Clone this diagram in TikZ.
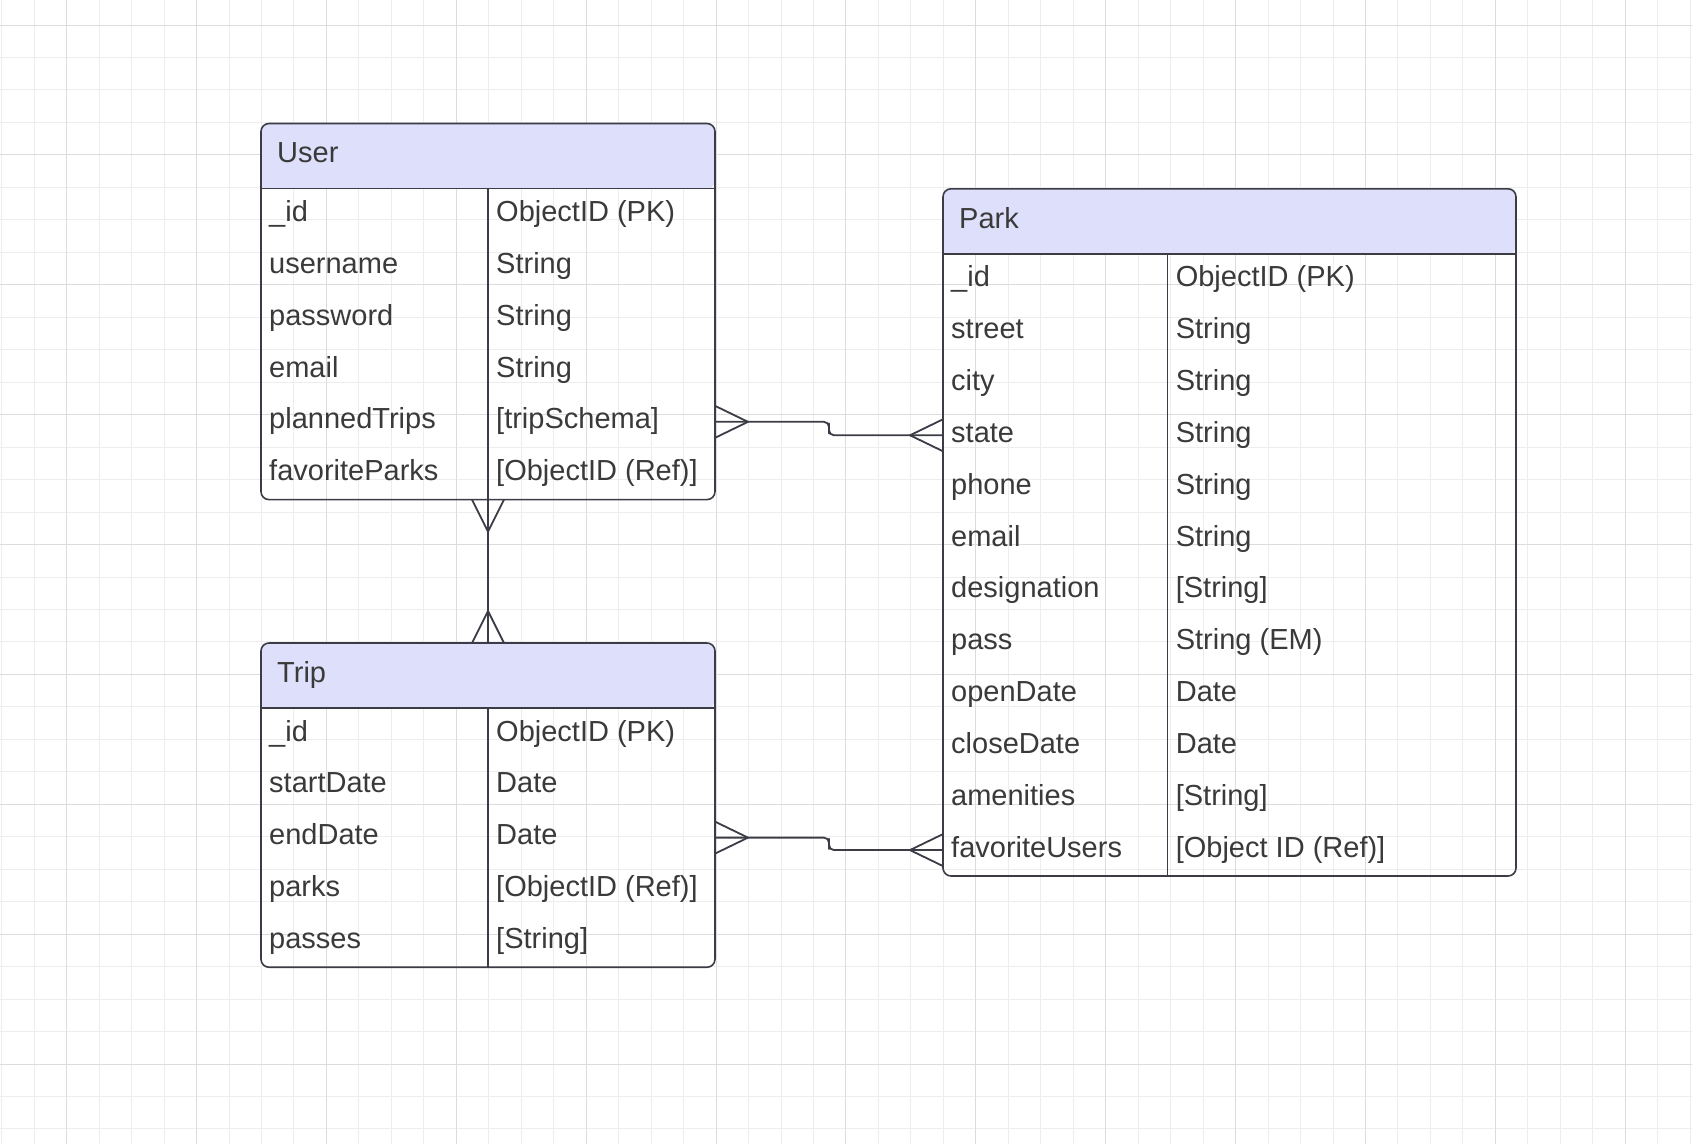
\documentclass[tikz,border=0pt]{standalone}
\usepackage{fontspec}
\setmainfont{Liberation Sans}
\usetikzlibrary{calc}

\definecolor{headfill}{HTML}{DEDFFA}
\definecolor{inkline}{HTML}{3B3C46}
\definecolor{inktext}{HTML}{3A3A3A}
\definecolor{gridminor}{HTML}{EDEDED}
\definecolor{gridmajor}{HTML}{DCDCDC}

\tikzset{
  tableline/.style={draw=inkline, line width=1.6pt},
  conn/.style={draw=inkline, line width=1.8pt, line join=round},
  celltext/.style={text=inktext, anchor=base west, inner sep=0pt,
    font=\fontsize{29}{34}\selectfont},
  tableframe/.style={draw=inkline, line width=1.6pt, rounded corners=8pt,
    inner sep=0pt, outer sep=0pt, anchor=north west},
}

% name, left, divider, right, top, rows, title, field/type list
\newcommand\ertable[8]{%
  \pgfmathsetmacro\hb{#5+65}%
  \pgfmathsetmacro\bt{#5+65+#6*51.85}%
  \fill[headfill, rounded corners=8pt] (#2,\hb) -- (#2,#5) -- (#4,#5) -- (#4,\hb) [sharp corners] -- cycle;
  \node[celltext] (#1-title) at (#2+16, #5+39.4) {#7};
  \draw[tableline] (#2,\hb) -- (#4,\hb);
  \draw[tableline] (#3,\hb) -- (#3,\bt);
  \foreach \f/\t [count=\k] in {#8} {
    \pgfmathsetmacro\yc{\hb+(\k-0.5)*51.85}
    \coordinate (#1-r\k-w) at (#2,\yc);
    \coordinate (#1-r\k-e) at (#4,\yc);
    \node[celltext] (#1-f\k) at (#2+8, \yc+7.1) {\f};
    \node[celltext] (#1-t\k) at (#3+8, \yc+7.1) {\t};
  }
  \node[tableframe, minimum width={(#4-#2)*1pt}, minimum height={(\bt-#5)*1pt}] (#1) at (#2,#5) {};
}

\begin{document}
\begin{tikzpicture}[x=1pt, y=-1pt]
  \useasboundingbox (0,0) rectangle (1692,1144);
  \fill[white] (0,0) rectangle (1692,1144);

  % background grid
  \foreach \i in {0,...,52}
    \draw[gridminor, line width=1pt] ({1.76+\i*32.47},0) -- ({1.76+\i*32.47},1144);
  \foreach \j in {0,...,36}
    \draw[gridminor, line width=1pt] (0,{-7.47+\j*32.47}) -- (1692,{-7.47+\j*32.47});
  \foreach \i in {0,...,12}
    \draw[gridmajor, line width=1pt] ({66.7+\i*129.88},0) -- ({66.7+\i*129.88},1144);
  \foreach \j in {0,...,8}
    \draw[gridmajor, line width=1pt] (0,{25+\j*129.88}) -- (1692,{25+\j*129.88});

  % entities
  \ertable{user}{261}{488}{715}{123.5}{6}{User}{%
    \_id/ObjectID (PK), username/String, password/String, email/String,
    plannedTrips/{[tripSchema]}, favoriteParks/{[ObjectID (Ref)]}}

  \ertable{trip}{261}{488}{715}{643}{5}{Trip}{%
    \_id/ObjectID (PK), startDate/Date, endDate/Date,
    parks/{[ObjectID (Ref)]}, passes/{[String]}}

  \ertable{park}{943}{1167.6}{1516}{188.8}{12}{Park}{%
    \_id/ObjectID (PK), street/String, city/String, state/String,
    phone/String, email/String, designation/{[String]}, pass/String (EM),
    openDate/Date, closeDate/Date, amenities/{[String]},
    favoriteUsers/{[Object ID (Ref)]}}

  % User -- Park
  \draw[conn, rounded corners=5pt] (user-r5-e) -| ($(user-r5-e)!0.5!(park-r4-w)$) |- (park-r4-w);
  \draw[conn] ($(user-r5-e)+(0,-16)$) -- ($(user-r5-e)+(33,0)$) -- ($(user-r5-e)+(0,16)$);
  \draw[conn] ($(park-r4-w)+(0,-16)$) -- ($(park-r4-w)+(-33,0)$) -- ($(park-r4-w)+(0,16)$);

  % Trip -- Park
  \draw[conn, rounded corners=5pt] (trip-r3-e) -| ($(trip-r3-e)!0.5!(park-r12-w)$) |- (park-r12-w);
  \draw[conn] ($(trip-r3-e)+(0,-16)$) -- ($(trip-r3-e)+(33,0)$) -- ($(trip-r3-e)+(0,16)$);
  \draw[conn] ($(park-r12-w)+(0,-16)$) -- ($(park-r12-w)+(-33,0)$) -- ($(park-r12-w)+(0,16)$);

  % User -- Trip
  \draw[conn] (user.south) -- (trip.north);
  \draw[conn] ($(user.south)+(-16,0)$) -- ($(user.south)+(0,32)$) -- ($(user.south)+(16,0)$);
  \draw[conn] ($(trip.north)+(-16,0)$) -- ($(trip.north)+(0,-32)$) -- ($(trip.north)+(16,0)$);
\end{tikzpicture}
\end{document}
